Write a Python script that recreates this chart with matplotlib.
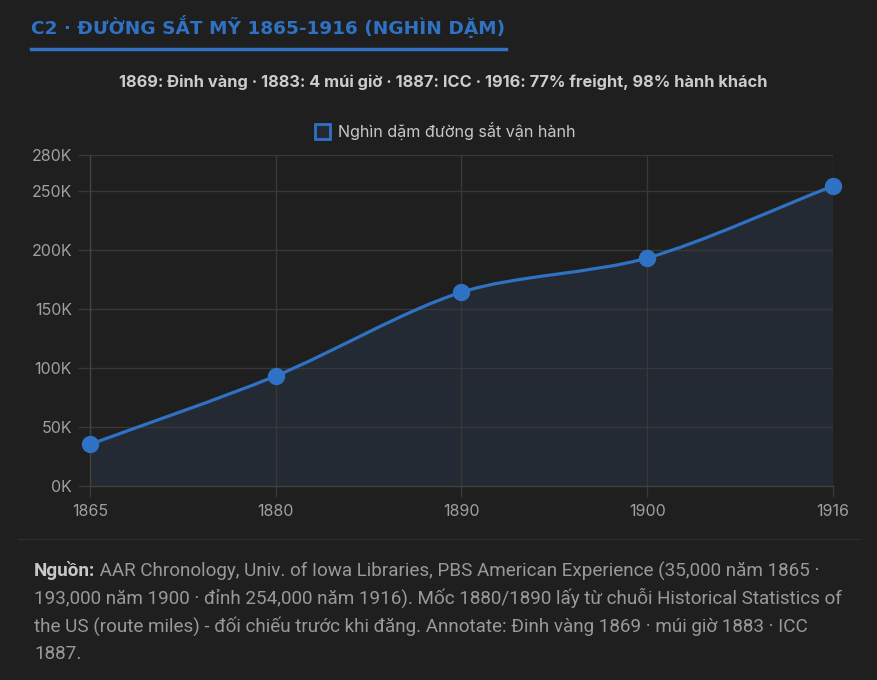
import numpy as np
import matplotlib.pyplot as plt
from matplotlib.path import Path
from matplotlib.patches import PathPatch, Rectangle
from matplotlib.ticker import FuncFormatter

# data
years = ['1865', '1880', '1890', '1900', '1916']
miles = [35000, 93000, 164000, 193000, 254000]
yticks = [0, 50000, 100000, 150000, 200000, 250000, 280000]

title = 'C2 · ĐƯỜNG SẮT MỸ 1865-1916 (NGHÌN DẶM)'
subtitle = '1869: Đinh vàng · 1883: 4 múi giờ · 1887: ICC · 1916: 77% freight, 98% hành khách'
legend_label = 'Nghìn dặm đường sắt vận hành'
source_bold = 'Nguồn:'
source_lines = [
    ' AAR Chronology, Univ. of Iowa Libraries, PBS American Experience (35,000 năm 1865 ·',
    '193,000 năm 1900 · đỉnh 254,000 năm 1916). Mốc 1880/1890 lấy từ chuỗi Historical Statistics of',
    'the US (route miles) - đối chiếu trước khi đăng. Annotate: Đinh vàng 1869 · múi giờ 1883 · ICC',
    '1887.',
]

BG = '#1f1f1f'
BLUE = '#2f72c4'
GRID = '#383838'
TICK = '#a0a0a0'

plt.rcParams['font.family'] = ['Inter', 'DejaVu Sans']

W, H = 878, 680
fig = plt.figure(figsize=(W / 100, H / 100), dpi=100, facecolor=BG)
x0, x1, yb, yt = 90, 833, 485.7, 155.3
ax = fig.add_axes([x0 / W, 1 - yb / H, (x1 - x0) / W, (yb - yt) / H])
ax.set_facecolor(BG)

x = np.arange(len(years))
ax.set_xlim(0, len(years) - 1)
ax.set_ylim(0, 280000)

# smooth line like chart.js, control points computed in pixel space
sx = (x1 - x0) / (len(years) - 1)
sy = (yb - yt) / 280000
px = x * sx
py = np.array(miles) * sy
t = 0.3
verts = [(x[0], miles[0])]
codes = [Path.MOVETO]
cps = []
for i in range(len(x)):
    ip = max(i - 1, 0)
    inx = min(i + 1, len(x) - 1)
    d01 = np.hypot(px[i] - px[ip], py[i] - py[ip])
    d12 = np.hypot(px[inx] - px[i], py[inx] - py[i])
    tot = d01 + d12 if d01 + d12 else 1
    fa = t * d01 / tot
    fb = t * d12 / tot
    dx = px[inx] - px[ip]
    dy = py[inx] - py[ip]
    prev_cp = ((px[i] - fa * dx) / sx, (py[i] - fa * dy) / sy)
    next_cp = ((px[i] + fb * dx) / sx, (py[i] + fb * dy) / sy)
    cps.append((prev_cp, next_cp))
for i in range(1, len(x)):
    verts += [cps[i - 1][1], cps[i][0], (x[i], miles[i])]
    codes += [Path.CURVE4] * 3
line_path = Path(verts, codes)
fill_verts = verts + [(x[-1], 0), (x[0], 0), (x[0], miles[0])]
fill_codes = codes + [Path.LINETO, Path.LINETO, Path.CLOSEPOLY]
ax.add_patch(PathPatch(Path(fill_verts, fill_codes), facecolor='#232a33', edgecolor='none', zorder=1))
ax.add_patch(PathPatch(line_path, facecolor='none', edgecolor=BLUE, lw=2.3, zorder=3))
ax.plot(x, miles, 'o', color=BLUE, ms=11.5, zorder=4, clip_on=False)

ax.set_xticks(x)
ax.set_xticklabels(years)
ax.set_yticks(yticks)
ax.yaxis.set_major_formatter(FuncFormatter(lambda v, p: f'{int(v / 1000)}K'))
ax.grid(True, color=GRID, lw=1, zorder=0)
ax.tick_params(axis='y', length=9, width=1, color=GRID, labelcolor=TICK, labelsize=11.5, pad=4)
ax.tick_params(axis='x', length=8, width=1, color=GRID, labelcolor=TICK, labelsize=11.5, pad=5)
for s in ['top', 'right']:
    ax.spines[s].set_visible(False)
for s in ['left', 'bottom']:
    ax.spines[s].set_color('#424242')
    ax.spines[s].set_linewidth(1)

# title
fig.text(31 / W, 1 - 26 / H, title, color=BLUE, fontsize=13.3, fontweight='bold',
         va='center', ha='left', family=['DejaVu Sans'])
fig.add_artist(plt.Line2D([31 / W, 506 / W], [1 - 49 / H, 1 - 49 / H], color=BLUE, lw=2.5))

# subtitle
fig.text(443 / W, 1 - 82 / H, subtitle, color='#cccccc', fontsize=11.8, fontweight='bold',
         ha='center', va='center')

# legend
fig.add_artist(Rectangle((315 / W, 1 - 139 / H), 15 / W, 15 / H, transform=fig.transFigure,
                         facecolor='#232a33', edgecolor=BLUE, lw=2))
fig.text(338 / W, 1 - 131 / H, legend_label, color='#c8c8c8', fontsize=11.6, ha='left', va='center')

# separator
fig.add_artist(plt.Line2D([18 / W, 860 / W], [1 - 539 / H, 1 - 539 / H], color='#2c2c2c', lw=1))

# source text
fs = 13.6
ys = [571, 598, 626, 654]
bt = fig.text(34 / W, 1 - ys[0] / H, source_bold, color='#c8c8c8', fontsize=fs, fontweight='bold',
              ha='left', va='center', family=['Roboto', 'DejaVu Sans'])
r = fig.canvas.get_renderer()
bw = bt.get_window_extent(renderer=r).width
fig.text((34 + bw) / W, 1 - ys[0] / H, source_lines[0], color='#999999', fontsize=fs,
         ha='left', va='center', family=['Roboto', 'DejaVu Sans'])
for yy, ln in zip(ys[1:], source_lines[1:]):
    fig.text(34 / W, 1 - yy / H, ln, color='#999999', fontsize=fs,
             ha='left', va='center', family=['Roboto', 'DejaVu Sans'])

fig.savefig('out.png', dpi=100, facecolor=BG)
